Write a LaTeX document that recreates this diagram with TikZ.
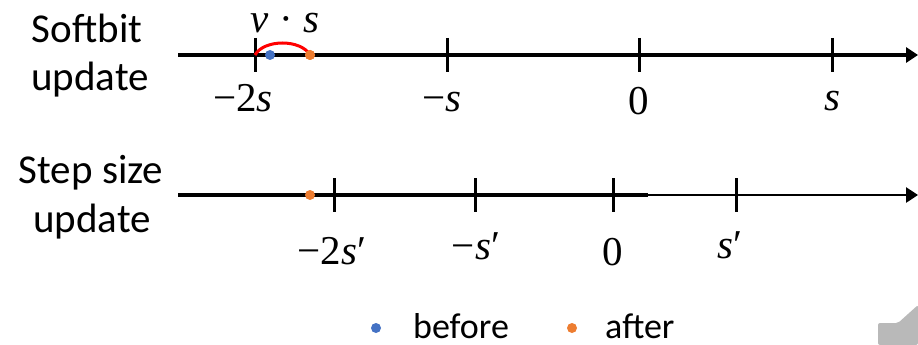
\documentclass[tikz,border=0pt]{standalone}
\usepackage{fontspec}
\setmainfont{Carlito}
\newfontfamily\mfont{Liberation Serif}
\usetikzlibrary{arrows.meta}
\definecolor{dotblue}{HTML}{4472C4}
\definecolor{dotorange}{HTML}{ED7D31}
\definecolor{arcred}{HTML}{FF0000}
\newcommand{\mi}[1]{{\itshape #1}}
\begin{document}
\begin{tikzpicture}[x=1pt,y=-1pt,
  lbl/.style={font=\fontsize{41}{48}\selectfont, anchor=base, inner sep=0pt},
  leg/.style={font=\fontsize{36}{42}\selectfont, anchor=base west, inner sep=0pt, text depth=0pt},
  mlbl/.style={font=\mfont\fontsize{41}{46}\selectfont, anchor=base, inner sep=0pt},
  axisline/.style={line width=3.5pt, -{Triangle[length=12pt,width=15pt]}},
  tickmark/.style={line width=3pt},
  dot/.style={circle, inner sep=0pt, minimum size=10pt},
]
\useasboundingbox (0,0) rectangle (918,345);

% ---------- top: softbit update ----------
\node[lbl] (soft1) at (87,43) {Softbit};
\node[lbl] (soft2) at (90,90) {update};

\coordinate (a1s) at (178,55);
\coordinate (a1e) at (918,55);
\draw[axisline] (a1s) -- (a1e);

\coordinate (t11) at (255,55);
\coordinate (t12) at (447,55);
\coordinate (t13) at (639,55);
\coordinate (t14) at (832,55);
\foreach \t in {t11,t12,t13,t14}
  \draw[tickmark] (\t) ++(0,-17) -- ++(0,34);

\node[mlbl] (l11) at (243,111) {−2\mi{s}};
\node[mlbl] (l12) at (442,111) {−\mi{s}};
\node[mlbl] (l13) at (639,114) {0};
\node[mlbl] (l14) at (832,110) {\mi{s}};

\node[dot, fill=dotorange] (od1) at (310,55) {};
\draw[arcred, line width=3pt] (t11) .. controls (264,39) and (301,39) .. (od1.center);
\node[dot, fill=dotblue] (bd1) at (270,55) {};
\node[dot, fill=dotorange] at (310,55) {};
\node[mlbl] (vs) at (285,33) {\mi{v} · \mi{s}};

% ---------- bottom: step size update ----------
\node[lbl] (step1) at (91,183) {Step size};
\node[lbl] (step2) at (92,232) {update};

\coordinate (a2s) at (178,195);
\coordinate (a2m) at (648,195);
\coordinate (a2e) at (918,195);
\draw[line width=3.5pt] (a2s) -- (a2m);
\draw[line width=2.8pt, -{Triangle[length=12pt,width=15pt]}] (a2m) -- (a2e);

\coordinate (t21) at (334,195);
\coordinate (t22) at (475,195);
\coordinate (t23) at (613,195);
\coordinate (t24) at (736,195);
\foreach \t in {t21,t22,t23,t24}
  \draw[tickmark] (\t) ++(0,-17) -- ++(0,34);

\node[mlbl] (l21) at (332,264) {−2\mi{s}′};
\node[mlbl] (l22) at (476,259) {−\mi{s}′};
\node[mlbl] (l23) at (613,265) {0};
\node[mlbl] (l24) at (730,258) {\mi{s}′};

\node[dot, fill=dotorange] (od2) at (310,195) {};

% ---------- legend ----------
\node[dot, fill=dotblue] (lgb) at (376,328) {};
\node[leg] (lgbt) at (413,338) {before};
\node[dot, fill=dotorange] (lgo) at (572,328) {};
\node[leg] (lgot) at (605,338) {after};

% ---------- corner artifact ----------
\fill[gray!55, rounded corners=2pt] (878,345) -- (878,323) -- (898,323) -- (918,305) -- (918,345) -- cycle;
\end{tikzpicture}
\end{document}
